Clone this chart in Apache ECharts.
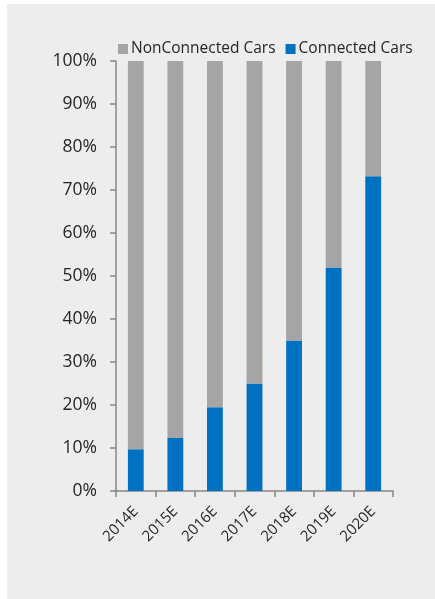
<!DOCTYPE html>
<html>
<head>
<meta charset="utf-8">
<script src="https://cdn.jsdelivr.net/npm/echarts@6/dist/echarts.min.js"></script>
<style>
html,body{margin:0;padding:0;background:#fff;}
#frame{position:absolute;left:7px;top:4px;width:428px;height:595px;background:#ededed;}
#chart{position:absolute;left:0;top:0;width:435px;height:599px;}
</style>
</head>
<body>
<div id="frame"></div>
<div id="chart"></div>
<script>
const categories = ['2014E','2015E','2016E','2017E','2018E','2019E','2020E'];
const connected = [9.7, 12.3, 19.5, 25, 35, 52, 73.2];
const nonConnected = [90.3, 87.7, 80.5, 75, 65, 48, 26.8];
const yTicks = [0,10,20,30,40,50,60,70,80,90,100];

const chart = echarts.init(document.getElementById('chart'), null, {renderer:'canvas'});
const font = 'Open Sans';
chart.setOption({
  backgroundColor: 'transparent',
  animation: false,
  legend: {
    data: ['NonConnected Cars','Connected Cars'],
    left: 113, top: 36,
    itemWidth: 10, itemHeight: 10, itemGap: 10,
    icon: 'rect',
    textStyle: {fontFamily: font, fontSize: 15.5, color: '#262626', padding:[0,0,0,-2]}
  },
  grid: {left: 116, right: 42, top: 61, bottom: 108, containLabel: false},
  xAxis: {
    type: 'category',
    data: categories,
    axisLine: {lineStyle: {color: '#868686', width: 1.5}},
    axisTick: {show: true, length: 6, lineStyle: {color: '#868686', width: 1.5}},
    axisLabel: {rotate: 45, margin: 18, fontFamily: font, fontSize: 15, color: '#262626'}
  },
  yAxis: {
    type: 'value',
    min: yTicks[0], max: yTicks[yTicks.length-1], interval: 10,
    axisLine: {show: true, lineStyle: {color: '#868686', width: 1.5}},
    axisTick: {show: true, length: 6, lineStyle: {color: '#868686', width: 1.5}},
    splitLine: {show: false},
    axisLabel: {margin: 19, fontFamily: font, fontSize: 17.5, color: '#262626', formatter: v => v + '%'}
  },
  series: [
    {name: 'Connected Cars', type: 'bar', stack: 's', data: connected, barWidth: '40%',
     itemStyle: {color: '#0070c0'}},
    {name: 'NonConnected Cars', type: 'bar', stack: 's', data: nonConnected, barWidth: '40%',
     itemStyle: {color: '#a5a5a5'}}
  ]
});
</script>
</body>
</html>
